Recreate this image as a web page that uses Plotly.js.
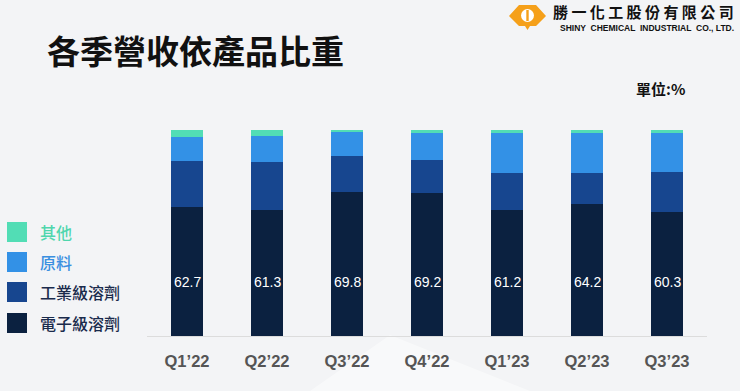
<!DOCTYPE html>
<html>
<head>
<meta charset="utf-8">
<script src="https://cdn.plot.ly/plotly-3.0.1.min.js"></script>
<style>html,body{margin:0;padding:0;background:#f4f5f7;}#chart{width:740px;height:391px;}</style>
</head>
<body>
<div id="chart"></div>
<script>
var quarters = ["Q1’22", "Q2’22", "Q3’22", "Q4’22", "Q1’23", "Q2’23", "Q3’23"];
var electronic = [62.7, 61.3, 69.8, 69.2, 61.2, 64.2, 60.3];
var industrial = [22.3, 23.0, 17.6, 16.3, 18.0, 15.0, 19.5];
var raw = [11.8, 12.6, 11.4, 13.0, 19.5, 19.5, 18.9];
var other = [3.2, 3.1, 1.2, 1.5, 1.3, 1.3, 1.3];
var seriesNames = ["電子級溶劑", "工業級溶劑", "原料", "其他"];
var colors = ["#0b2140", "#17468f", "#3391e6", "#52ddb5"];
var legendText = ["#1a2b4c", "#1a2b4c", "#3a8fe0", "#4fd6ad"];

var W = 740, H = 391;
function px(x){ return x / W; }
function py(y){ return 1 - y / H; }

var series = [electronic, industrial, raw, other];
var traces = series.map(function(vals, i){
  return {type: 'bar', x: quarters, y: vals, name: seriesNames[i],
    marker: {color: colors[i], line: {width: 0}}, hoverinfo: 'x+y+name'};
});

var annotations = [];
quarters.forEach(function(q, i){
  annotations.push({xref: 'x', yref: 'y', x: q, y: 26, text: electronic[i].toFixed(1),
    showarrow: false, font: {family: 'Liberation Sans, Arial', size: 14, color: '#ffffff'}});
});
// title
annotations.push({xref: 'paper', yref: 'paper', x: px(45), y: py(50), xanchor: 'left', yanchor: 'middle',
  text: '<b>各季營收依產品比重</b>', showarrow: false,
  font: {family: 'Noto Sans CJK TC', size: 33, color: '#111111'}});
// unit
annotations.push({xref: 'paper', yref: 'paper', x: px(687), y: py(88), xanchor: 'right', yanchor: 'middle',
  text: '<b>單位:%</b>', showarrow: false,
  font: {family: 'Noto Sans CJK TC', size: 15, color: '#111111'}});
// company name
annotations.push({xref: 'paper', yref: 'paper', x: px(736), y: py(12), xanchor: 'right', yanchor: 'middle',
  text: '<b>勝 一 化 工 股 份 有 限 公 司</b>', showarrow: false,
  font: {family: 'Noto Sans CJK TC', size: 15, color: '#111111'}});
annotations.push({xref: 'paper', yref: 'paper', x: px(736), y: py(27.5), xanchor: 'right', yanchor: 'middle',
  text: '<b>SHINY  CHEMICAL  INDUSTRIAL  CO., LTD.</b>', showarrow: false,
  font: {family: 'Liberation Sans, Arial', size: 8.5, color: '#111111'}});

// legend
var legendOrder = [3, 2, 1, 0];
var legendY = [232, 262, 292, 323];
var shapes = [];
legendOrder.forEach(function(si, k){
  var yc = legendY[k];
  shapes.push({type: 'rect', xref: 'paper', yref: 'paper', x0: px(7), x1: px(27), y0: py(yc - 10), y1: py(yc + 10),
    fillcolor: colors[si], line: {width: 0}});
  annotations.push({xref: 'paper', yref: 'paper', x: px(38), y: py(yc), xanchor: 'left', yanchor: 'middle',
    text: seriesNames[si], showarrow: false,
    font: {family: 'Noto Sans CJK TC', size: 16, color: legendText[si], weight: 500}});
});

// background subtle shape
shapes.unshift({type: 'path', xref: 'paper', yref: 'paper', layer: 'below',
  path: 'M ' + px(390) + ' ' + py(335) + ' L ' + px(530) + ' ' + py(391) + ' L ' + px(310) + ' ' + py(391) + ' Z',
  fillcolor: 'rgba(255,255,255,0.45)', line: {width: 0}});

// logo
var lp = 'M ' + px(509) + ' ' + py(16) + ' L ' + px(519) + ' ' + py(5) + ' L ' + px(536) + ' ' + py(5) +
  ' L ' + px(546) + ' ' + py(16) + ' L ' + px(536) + ' ' + py(26) + ' L ' + px(530) + ' ' + py(26) +
  ' L ' + px(527.5) + ' ' + py(30) + ' L ' + px(525) + ' ' + py(26) + ' L ' + px(519) + ' ' + py(26) + ' Z';
shapes.push({type: 'path', xref: 'paper', yref: 'paper', path: lp, fillcolor: '#f5a01a', line: {width: 0}});
shapes.push({type: 'circle', xref: 'paper', yref: 'paper', x0: px(521), x1: px(534), y0: py(9), y1: py(22),
  fillcolor: '#ffffff', line: {width: 0}});
shapes.push({type: 'rect', xref: 'paper', yref: 'paper', x0: px(526.3), x1: px(528.7), y0: py(10), y1: py(21),
  fillcolor: '#f5a01a', line: {width: 0}});

var layout = {
  width: W, height: H,
  margin: {l: 0, r: 0, t: 0, b: 0},
  paper_bgcolor: '#f3f4f6', plot_bgcolor: 'rgba(0,0,0,0)',
  barmode: 'stack', bargap: 0.59,
  showlegend: false,
  xaxis: {domain: [px(147), px(707)], type: 'category', showgrid: false, zeroline: false,
    showline: true, linecolor: '#dcdcdc', linewidth: 1, ticks: '',
    tickfont: {family: 'Liberation Sans, Arial', size: 16.5, color: '#555555', weight: 'bold'},
    ticklabelstandoff: 10, fixedrange: true},
  yaxis: {domain: [py(336), py(130)], range: [0, 100], showgrid: false, zeroline: false,
    showticklabels: false, showline: false, fixedrange: true},
  annotations: annotations,
  shapes: shapes
};

Plotly.newPlot('chart', traces, layout, {displayModeBar: false, staticPlot: true});
</script>
</body>
</html>
